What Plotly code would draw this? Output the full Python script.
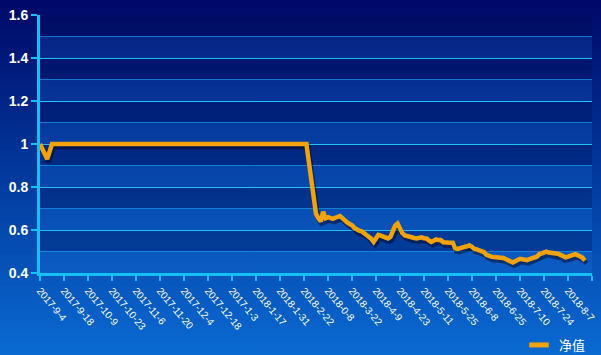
import base64
import plotly.graph_objects as go

# ---------------- data ----------------
tick_labels = ["2017-9-4", "2017-9-18", "2017-10-9", "2017-10-23", "2017-11-6",
               "2017-11-20", "2017-12-4", "2017-12-18", "2017-1-3", "2018-1-17",
               "2018-1-31", "2018-2-22", "2018-0-8", "2018-3-22", "2018-4-9",
               "2018-4-23", "2018-5-11", "2018-5-25", "2018-6-8", "2018-6-25",
               "2018-7-10", "2018-7-24", "2018-8-7"]
label_days = [i * 10 for i in range(len(tick_labels))]

days = [0, 1, 2, 3, 4, 5, 111,
        113, 114, 115, 116, 117, 118, 119, 120, 121, 122, 123, 124, 125, 126,
        127, 128, 129, 130, 131, 132, 133, 134, 135, 136, 137, 138, 139, 140,
        141, 142, 143, 144, 145, 146, 147, 148, 149, 150, 151, 152, 153, 154,
        155, 156, 157, 158, 159, 160, 161, 162, 163, 164, 165, 166, 167, 168,
        169, 170, 171, 172, 173, 174, 175, 176, 177, 178, 179, 180, 181, 182,
        183, 184, 185, 186, 187, 188, 189, 190, 191, 192, 193, 194, 195, 196,
        197, 198, 199, 200, 201, 202, 203, 204, 205, 206, 207, 208, 209, 210,
        211, 212, 213, 214, 215, 216, 217, 218, 219, 220, 221, 222, 223, 224,
        225, 226, 227]
nav = [1.0, 0.978, 0.958, 0.93, 0.965, 1.0, 1.0,
       0.84, 0.75, 0.675, 0.655, 0.64, 0.685, 0.655, 0.66, 0.655, 0.652, 0.657, 0.662, 0.665, 0.655,
       0.643, 0.635, 0.628, 0.622, 0.61, 0.60, 0.597, 0.594, 0.586, 0.58, 0.57, 0.56, 0.545, 0.56,
       0.577, 0.574, 0.568, 0.564, 0.561, 0.568, 0.59, 0.62, 0.63, 0.60, 0.585, 0.575, 0.571, 0.569,
       0.567, 0.563, 0.561, 0.565, 0.566, 0.562, 0.561, 0.552, 0.545, 0.55, 0.556, 0.553, 0.553, 0.543,
       0.541, 0.539, 0.541, 0.541, 0.515, 0.512, 0.516, 0.52, 0.522, 0.525, 0.528, 0.522, 0.512, 0.51,
       0.507, 0.505, 0.497, 0.485, 0.478, 0.476, 0.474, 0.473, 0.473, 0.473, 0.470, 0.465, 0.46, 0.45,
       0.449, 0.455, 0.46, 0.466, 0.464, 0.461, 0.46, 0.465, 0.47, 0.473, 0.476, 0.487, 0.492, 0.495,
       0.499, 0.495, 0.492, 0.492, 0.491, 0.489, 0.482, 0.474, 0.473, 0.476, 0.48, 0.486, 0.488, 0.483,
       0.479, 0.472, 0.458]

y_ticks = [0.4, 0.6, 0.8, 1.0, 1.2, 1.4, 1.6]
y_ticktext = ["0.4", "0.6", "0.8", "1", "1.2", "1.4", "1.6"]
series_name = "净值"

# ---------------- layout constants ----------------
W, H = 601, 355
ML, MR, MT, MB = 40, 9, 15, 82
PW, PH = W - ML - MR, H - MT - MB
XMAX = 230
YMIN, YMAX = 0.4, 1.6
LINE_COLOR = "#f2a30c"
AXIS_COLOR = "#14c0f6"

# shadow offset (pixels -> data units)
dx = 1.5 * XMAX / PW
dy = 3.0 * (YMAX - YMIN) / PH

svg = (f'<svg xmlns="http://www.w3.org/2000/svg" width="{W}" height="{H}">'
       '<defs><linearGradient id="g" x1="0" y1="0" x2="0" y2="1">'
       '<stop offset="0" stop-color="#000868"/>'
       '<stop offset="0.5" stop-color="#023a9e"/>'
       '<stop offset="1" stop-color="#0a6ad2"/>'
       '</linearGradient></defs>'
       f'<rect width="{W}" height="{H}" fill="url(#g)"/></svg>')
bg_src = "data:image/svg+xml;base64," + base64.b64encode(svg.encode()).decode()

fig = go.Figure()

# legend entry
fig.add_trace(go.Scatter(
    x=[None], y=[None], mode="markers", name=series_name, showlegend=True,
    marker=dict(symbol="line-ew", size=14, color=LINE_COLOR,
                line=dict(color=LINE_COLOR, width=5)),
    xaxis="x", yaxis="y"))

# shadow of the line
fig.add_trace(go.Scatter(
    x=days, y=nav, mode="lines", showlegend=False, hoverinfo="skip",
    line=dict(color="rgba(0,5,40,0.5)", width=5),
    xaxis="x2", yaxis="y2"))

# main line
fig.add_trace(go.Scatter(
    x=days, y=nav, mode="lines", name=series_name, showlegend=False,
    line=dict(color=LINE_COLOR, width=4.5),
    xaxis="x3", yaxis="y3"))

# alternating bands
shapes = []
for k in range(12):
    y0 = round(YMIN + 0.1 * k, 2)
    y1 = round(y0 + 0.1, 2)
    color = "rgba(0,10,70,0.25)" if k % 2 == 1 else "rgba(40,150,255,0.14)"
    shapes.append(dict(type="rect", xref="x", yref="y", x0=0, x1=XMAX, y0=y0, y1=y1,
                       fillcolor=color, line=dict(width=0), layer="below"))

hidden = dict(visible=False, showgrid=False, zeroline=False, fixedrange=True)

fig.update_layout(
    width=W, height=H,
    margin=dict(l=ML, r=MR, t=MT, b=MB, autoexpand=False),
    paper_bgcolor="#0a3a9e",
    plot_bgcolor="rgba(0,0,0,0)",
    images=[dict(source=bg_src, xref="paper", yref="paper",
                 x=-ML / PW, y=1 + MT / PH, sizex=W / PW, sizey=H / PH,
                 xanchor="left", yanchor="top", sizing="stretch", layer="below")],
    shapes=shapes,
    xaxis=dict(range=[0, XMAX], tickvals=label_days + [XMAX], ticktext=tick_labels + [""],
               tickangle=50, tickfont=dict(family="Arial", size=10, color="white"),
               showline=True, linecolor=AXIS_COLOR, linewidth=3,
               ticks="outside", ticklen=5, tickwidth=2, tickcolor=AXIS_COLOR,
               showgrid=False, zeroline=False, fixedrange=True, automargin=False),
    yaxis=dict(range=[YMIN, YMAX], tickvals=y_ticks, ticktext=y_ticktext,
               tickfont=dict(family="Liberation Sans", size=14, color="white", weight="bold"),
               showline=True, linecolor=AXIS_COLOR, linewidth=3,
               ticks="outside", ticklen=6, tickwidth=2, tickcolor=AXIS_COLOR,
               showgrid=True, gridcolor="#1ec3f5", gridwidth=1,
               minor=dict(tickvals=[0.5, 0.7, 0.9, 1.1, 1.3, 1.5], showgrid=True,
                          gridcolor="rgba(20,150,230,0.75)", gridwidth=1, ticks=""),
               zeroline=False, fixedrange=True, automargin=False),
    xaxis2=dict(range=[-dx, XMAX - dx], overlaying="x", **hidden),
    yaxis2=dict(range=[YMIN + dy, YMAX + dy], overlaying="y", **hidden),
    xaxis3=dict(range=[0, XMAX], overlaying="x", **hidden),
    yaxis3=dict(range=[YMIN, YMAX], overlaying="y", **hidden),
    legend=dict(xref="container", yref="container", x=519 / W, xanchor="left",
                y=(H - 345) / H, yanchor="middle", bgcolor="rgba(0,0,0,0)",
                font=dict(family="Noto Sans CJK SC", size=13, color="white")),
    hovermode=False,
)

fig.write_html("out.html")
